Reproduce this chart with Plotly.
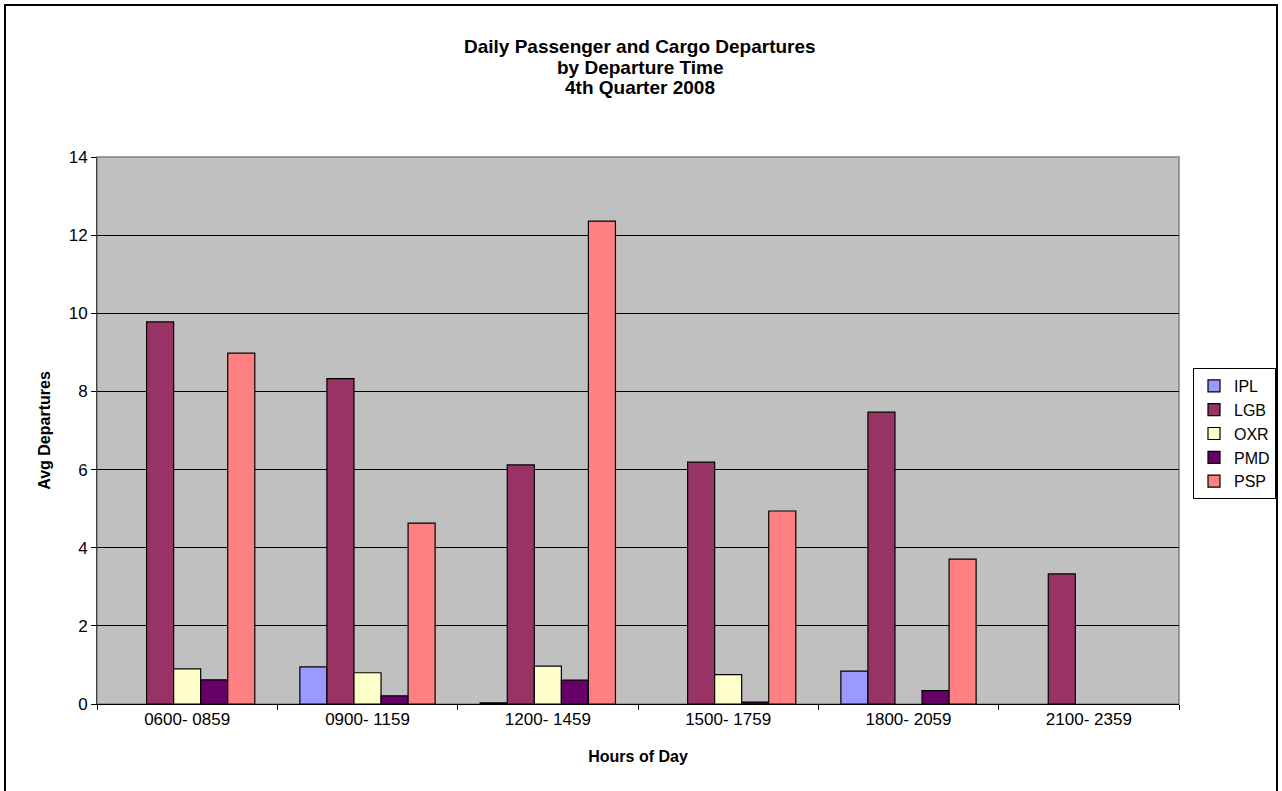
import plotly.graph_objects as go

categories = ["0600- 0859", "0900- 1159", "1200- 1459", "1500- 1759", "1800- 2059", "2100- 2359"]
ipl = [None, 0.95, 0.03, None, 0.84, None]
lgb = [9.78, 8.33, 6.12, 6.19, 7.47, 3.33]
oxr = [0.90, 0.80, 0.97, 0.75, None, None]
pmd = [0.62, 0.21, 0.61, 0.05, 0.34, None]
psp = [8.98, 4.63, 12.36, 4.94, 3.71, None]

series = [("IPL", ipl, "#9999FF"), ("LGB", lgb, "#993366"), ("OXR", oxr, "#FFFFCC"),
          ("PMD", pmd, "#660066"), ("PSP", psp, "#FF8080")]

fig = go.Figure()
for name, vals, col in series:
    fig.add_trace(go.Bar(name=name, x=categories, y=vals, marker_color=col,
                         marker_line_color="black", marker_line_width=1.2,
                         legendgroup=name))

W, H = 1282, 791
L, R, T, B = 97, 1179, 157, 704
fig.update_layout(
    width=W, height=H,
    margin=dict(l=L, r=W - R, t=T, b=H - B, autoexpand=False),
    paper_bgcolor="white", plot_bgcolor="#C0C0C0",
    barmode="group", bargap=0.25, bargroupgap=0,
    font=dict(family="Arial, Liberation Sans, sans-serif", size=17, color="black"),
    showlegend=True,
    legend=dict(x=(1193 - L) / (R - L), y=(B - 368) / (B - T), xanchor="left", yanchor="top",
                bordercolor="black", borderwidth=1, bgcolor="white",
                font=dict(size=16), tracegroupgap=0, traceorder="normal",
                itemwidth=30),
)
fig.update_yaxes(range=[0, 14], dtick=2, showgrid=True, gridcolor="black", gridwidth=1,
                 ticks="outside", ticklen=5, tickcolor="black", showline=True, linecolor="#404040",
                 zeroline=False, title=dict(text="<b>Avg Departures</b>", font=dict(size=16), standoff=14),
                 tickfont=dict(size=17))
fig.update_xaxes(ticks="outside", ticklen=5, tickcolor="black", tickson="boundaries",
                 showline=True, linecolor="black",
                 title=dict(text="<b>Hours of Day</b>", font=dict(size=16), standoff=22),
                 tickfont=dict(size=17))

# plot area border (top/right grey)
fig.add_shape(type="rect", xref="paper", yref="paper", x0=0, x1=1, y0=0, y1=1,
              line=dict(color="#808080", width=1.5), layer="below")
# outer chart border
fig.add_shape(type="rect", xref="paper", yref="paper",
              x0=(5 - L) / (R - L), x1=(1277 - L) / (R - L),
              y0=(B - 795) / (B - T), y1=(B - 5) / (B - T),
              line=dict(color="black", width=2))

titles = ["Daily Passenger and Cargo Departures", "by Departure Time", "4th Quarter 2008"]
for i, t in enumerate(titles):
    fig.add_annotation(text=f"<b>{t}</b>", xref="paper", yref="paper",
                       x=(640 - L) / (R - L), y=(B - (47 + 20 * i)) / (B - T),
                       showarrow=False, font=dict(size=19), xanchor="center", yanchor="middle")

fig.write_html("out.html", config={"displayModeBar": False},
               post_script="document.body.style.margin='0';document.body.style.overflow='hidden';")
